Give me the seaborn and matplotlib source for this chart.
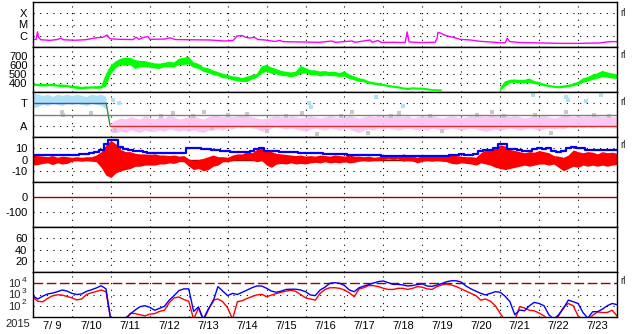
import numpy as np
import pandas as pd
import matplotlib
matplotlib.use("Agg")
import matplotlib.pyplot as plt
import seaborn as sns

sns.set_style("white")
plt.rcParams['font.family'] = ['Liberation Sans', 'DejaVu Sans']

nan = np.nan

# ---------------- data ----------------
year_label = "2015"
date_labels = ["7/ 9", "7/10", "7/11", "7/12", "7/13", "7/14", "7/15", "7/16",
               "7/17", "7/18", "7/19", "7/20", "7/21", "7/22", "7/23"]
# 3-hourly grid, days since 2015-07-09 00:00 UT
hours3 = list(range(0, 361, 3))

# GOES X-ray flux (W/m^2)
xray_day = [0.0, 0.08, 0.115, 0.14, 0.2, 0.44, 0.62, 0.72, 0.77, 1.08, 1.34, 1.64, 1.8, 1.9, 1.98,
            2.23, 2.57, 2.65, 2.72, 2.83, 2.95, 3.0, 3.39, 3.52, 3.65, 4.03, 4.55, 4.93, 5.14, 5.24,
            5.37, 5.47, 5.57, 5.68, 5.78, 5.96, 6.22, 6.34, 6.42, 6.86, 7.37, 7.68, 7.76, 8.19, 8.27,
            8.66, 8.71, 8.86, 8.94, 9.3, 9.56, 9.61, 9.66, 9.94, 10.33, 10.38, 10.4, 10.48, 10.6,
            10.79, 10.97, 11.23, 11.48, 11.74, 12.0, 12.13, 12.18, 12.25, 12.51, 13.02, 13.54,
            14.05, 14.56, 14.74, 14.87, 15.0]
xray_flux = [4.8e-7, 4.6e-7, 2.2e-6, 7.7e-7, 4.4e-7, 3.9e-7, 4.6e-7, 6.1e-7, 4.4e-7, 4.0e-7, 4.4e-7,
             6.6e-7, 7.3e-7, 1.17e-6, 5.4e-7, 4.8e-7, 4.6e-7, 7.4e-7, 4.8e-7, 7.0e-7, 8.6e-7, 4.8e-7,
             5.1e-7, 6.6e-7, 4.6e-7, 4.4e-7, 4.2e-7, 3.4e-7, 3.8e-7, 9.5e-7, 1.05e-6, 7.0e-7, 6.3e-7,
             7.3e-7, 4.6e-7, 4.2e-7, 3.1e-7, 3.9e-7, 3.0e-7, 2.8e-7, 2.6e-7, 3.4e-7, 2.6e-7, 3.4e-7,
             2.6e-7, 4.2e-7, 2.6e-7, 3.8e-7, 2.6e-7, 2.6e-7, 2.5e-7, 2.2e-6, 2.8e-7, 2.5e-7, 2.6e-7,
             6.3e-7, 2.0e-6, 1.65e-6, 1.05e-6, 7.3e-7, 4.8e-7, 4.2e-7, 3.2e-7, 2.8e-7, 2.4e-7, 2.4e-7,
             5.9e-7, 3.0e-7, 2.5e-7, 2.3e-7, 2.1e-7, 2.1e-7, 2.3e-7, 2.8e-7, 3.0e-7, 3.0e-7]

# Solar wind speed (km/s), 3-hourly, and its scatter half-width
speed = [380, 378, 376, 376, 378, 372, 368, 366,
         355, 350, 345, 348, 350, 350, 352, 430,
         545, 600, 635, 635, 640, 605, 610, 610,
         600, 590, 585, 600, 605, 600, 635, 640,
         650, 600, 585, 550, 537, 515, 500, 478,
         470, 452, 444, 433, 441, 463, 478, 544,
         563, 537, 526, 507, 500, 489, 500, 544,
         537, 515, 515, 500, 507, 500, 500, 489,
         500, 470, 452, 433, 426, 404, 396, 385,
         378, 367, 359, 352, 341, 333, 341, 337,
         337, 330, 322, 322, 318, nan, nan, nan,
         nan, nan, nan, nan, nan, nan, nan, nan,
         330, 389, 415, 422, 415, 415, 426, 404,
         396, 378, 367, 359, 352, 359, 367, 378,
         396, 426, 441, 463, 478, 500, 489, 478,
         470]
speed_spread = [14, 12, 15, 12, 14, 12, 15, 12,
                14, 16, 12, 14, 12, 15, 14, 70,
                50, 40, 35, 45, 40, 50, 35, 35,
                30, 28, 30, 25, 30, 28, 35, 40,
                42, 30, 28, 25, 28, 25, 22, 25,
                20, 22, 25, 22, 30, 25, 22, 40,
                38, 35, 30, 28, 25, 28, 25, 45,
                30, 28, 25, 28, 25, 22, 25, 22,
                30, 25, 22, 20, 18, 16, 14, 14,
                12, 12, 12, 12, 12, 12, 12, 12,
                12, 12, 10, 10, 10, nan, nan, nan,
                nan, nan, nan, nan, nan, nan, nan, nan,
                20, 30, 20, 18, 18, 20, 25, 18,
                15, 14, 12, 12, 12, 14, 14, 15,
                18, 25, 25, 30, 30, 35, 30, 28,
                25]

# IMF sector: T=3, A=1 (scale 0..4)
sector_ticks = [3, 1]
sector_ticklabels = ["T", "A"]
sky_lo = [2.6, 2.7, 2.9, 2.8, 3.0, 2.9, 2.8, 3.0, 2.9, 3.0, 2.9, 2.8, 3.0, 2.9, 2.8, 2.5] + [nan] * 105
sky_hi = [3.9, 3.8, 3.7, 3.8, 3.6, 3.8, 3.7, 3.8, 3.7, 3.8, 3.7, 3.6, 3.8, 3.7, 3.8, 3.6] + [nan] * 105
pink_lo = [nan] * 16 + [
    0.4, 0.4, 0.5, 0.4, 0.6, 0.5, 0.4, 0.6,
    0.5, 0.5, 0.6, 0.5, 0.7, 0.6, 0.5, 0.6,
    0.5, 0.6, 0.5, 0.4, 0.6, 0.6, 0.7, 0.6,
    0.8, 0.7, 0.9, 0.8, 0.9, 0.8, 0.7, 0.5,
    0.6, 0.8, 0.9, 0.8, 0.7, 0.8, 0.7, 0.6,
    0.5, 0.7, 0.8, 0.7, 0.6, 0.8, 0.7, 0.6,
    0.8, 0.7, 0.5, 0.4, 0.6, 0.7, 0.6, 0.8,
    0.7, 0.8, 0.7, 0.6, 0.7, 0.8, 0.7, 0.6,
    0.7, 0.6, 0.8, 0.7, 0.6, 0.7, 0.8, 0.7,
    0.6, 0.7, 0.8, 0.7, 0.6, 0.5, 0.6, 0.7,
    0.6, 0.7, 0.8, 0.7, 0.6, 0.7, 0.8, 0.7,
    0.6, 0.7, 0.8, 0.7, 0.8, 0.7, 0.9, 0.8,
    0.9, 0.8, 0.9, 0.8, 0.9, 0.8, 0.9, 0.8,
    0.8]
pink_hi = [nan] * 16 + [
    1.3, 1.5, 1.7, 1.6, 1.8, 1.7, 1.6, 1.9,
    1.7, 1.6, 1.8, 1.7, 1.9, 1.8, 1.6, 1.7,
    1.8, 1.9, 1.7, 1.6, 1.8, 1.9, 1.9, 1.8,
    1.9, 1.8, 1.9, 2.0, 1.9, 1.8, 1.7, 1.6,
    1.7, 1.8, 1.9, 1.8, 1.7, 1.9, 1.8, 1.7,
    1.8, 1.9, 1.8, 1.7, 1.8, 1.9, 1.8, 1.7,
    1.8, 1.9, 1.8, 1.7, 1.8, 1.9, 1.8, 1.9,
    1.8, 1.9, 1.8, 1.9, 1.8, 1.9, 1.7, 1.8,
    1.9, 1.8, 1.9, 1.8, 1.7, 1.8, 1.9, 1.8,
    1.7, 1.8, 1.9, 1.8, 1.9, 1.8, 2.0, 1.9,
    1.8, 1.9, 1.8, 1.9, 1.8, 1.7, 1.8, 1.9,
    1.8, 1.9, 1.8, 1.7, 1.8, 1.9, 1.9, 1.8,
    1.9, 1.8, 1.9, 1.8, 1.9, 1.8, 1.9, 1.8,
    1.8]
gray_day = [0.75, 0.78, 1.5, 2.1, 3.3, 3.6, 4.1, 4.4, 4.6, 5.0, 5.5, 6.0, 6.5, 6.9, 7.3, 7.9, 8.2,
            8.6, 9.2, 9.4, 10.2, 10.5, 11.4, 11.8, 12.1, 12.9, 13.3, 13.7, 14.4, 14.8]
gray_val = [2.2, 2.0, 2.1, 0.6, 1.9, 2.1, 1.9, 2.2, 0.8, 1.95, 2.05, 0.5, 1.9, 2.1, 0.3, 1.9, 2.2,
            0.4, 1.9, 2.1, 1.9, 0.5, 2.0, 2.2, 1.9, 2.0, 0.4, 2.2, 2.0, 1.9]
skyout_day = [2.05, 2.2, 7.1, 7.15, 8.8, 9.5, 12.85, 13.7, 13.75, 14.2, 14.6]
skyout_val = [3.3, 3.0, 3.0, 2.7, 3.6, 2.8, 3.7, 3.6, 3.3, 3.2, 3.7]
sector_model_day = [0.0, 1.88, 1.98, 15.0]
sector_model_val = [3, 3, 1, 1]

# IMF |B| (blue) and Bz range (red), nT
bt = [4.0, 4.2, 4.0, 4.0, 4.2, 4.0, 4.0, 4.3,
      4.3, 4.2, 4.8, 5.3, 5.5, 6.5, 8.5, 14.0,
      17.5, 17.5, 11.0, 9.0, 8.4, 7.8, 7.5, 6.5,
      6.0, 5.8, 5.8, 5.8, 5.5, 5.5, 5.5, 5.8,
      10.5, 10.5, 10.0, 9.5, 9.2, 8.8, 8.5, 7.5,
      7.2, 7.0, 7.0, 6.8, 6.8, 7.5, 9.5, 10.0,
      8.0, 7.5, 7.2, 7.0, 6.8, 6.8, 6.5, 6.0,
      5.8, 5.6, 5.5, 5.5, 5.3, 5.3, 5.2, 5.0,
      4.5, 4.2, 4.0, 4.0, 4.2, 4.0, 4.0, 3.8,
      3.4, 3.2, 3.2, 3.0, 3.0, 3.0, 3.2, 3.0,
      3.0, 3.0, 3.1, 3.0, 3.2, 3.5, 4.2, 4.4,
      4.5, 4.4, 4.4, 4.6, 7.5, 8.4, 8.5, 10.0,
      13.5, 14.0, 9.5, 9.0, 8.2, 8.0, 8.0, 9.0,
      10.0, 9.5, 10.0, 7.5, 7.0, 7.2, 10.5, 10.8,
      10.5, 10.2, 8.8, 8.5, 8.5, 8.3, 8.5, 8.3,
      8.3]
bz_lo = [-4.9, -4.5, -3.5, -3.0, -4.5, -3.0, -4.0, -3.5,
         -1.5, -1.0, -1.5, -1.0, -1.5, -2.0, -7.0, -14.0,
         -16.0, -12.0, -10.0, -9.0, -8.0, -6.0, -6.0, -5.0,
         -5.0, -5.0, -4.0, -4.0, -3.0, -3.5, -2.0, -2.0,
         -6.0, -9.0, -8.0, -10.0, -9.0, -6.0, -5.0, -2.0,
         -2.0, -1.0, 0.0, -0.5, 0.0, -0.5, -2.0, -1.0,
         -5.0, -7.0, -4.0, -3.5, -4.0, -3.0, -4.0, -3.5,
         -4.0, -3.0, -2.5, -3.0, -2.0, -3.0, -2.5, -3.0,
         -2.0, -3.0, -2.5, -1.5, -1.0, -1.5, -1.0, -1.0,
         0.0, 0.5, 0.0, 0.5, -1.5, -1.0, -1.5, -3.0,
         -1.5, -1.0, -1.5, -1.0, -1.5, -2.0, -3.5, -4.0,
         -3.0, -3.5, -4.0, -5.0, -3.0, -4.0, -5.0, -7.0,
         -8.0, -9.0, -8.0, -7.0, -6.0, -5.0, -6.0, -5.0,
         -4.0, -4.0, -5.0, -4.0, -7.0, -10.0, -8.0, -6.0,
         -7.0, -5.0, -6.0, -5.0, -6.0, -5.0, -6.0, -5.0,
         -4.5]
bz_hi = [4.0, 3.5, 3.0, 2.5, 3.5, 2.0, 3.0, 2.5,
         2.0, 2.5, 2.0, 2.5, 2.5, 4.0, 7.0, 13.0,
         17.0, 14.0, 9.0, 7.0, 7.0, 5.5, 5.0, 5.0,
         4.5, 5.0, 4.0, 4.0, 3.5, 4.0, 3.0, 3.5,
         0.5, -1.0, 0.0, 1.0, 2.5, 4.0, 2.5, 2.5,
         2.0, 4.0, 5.0, 5.0, 7.0, 6.0, 9.0, 10.0,
         8.5, 7.0, 5.5, 5.0, 4.5, 4.0, 3.5, 4.0,
         3.0, 3.5, 3.0, 4.0, 3.5, 3.0, 4.0, 3.5,
         3.0, 4.0, 3.0, 3.0, 2.5, 3.0, 2.0, 2.5,
         3.0, 2.5, 3.0, 2.5, 5.0, 4.0, 3.0, 2.0,
         4.0, 3.0, 3.5, 4.0, 3.0, 4.0, 4.0, 3.5,
         3.0, 2.5, 2.5, 2.0, 6.0, 8.5, 9.0, 10.0,
         13.0, 12.0, 9.0, 8.0, 7.0, 6.0, 7.0, 6.5,
         8.0, 7.0, 6.0, 3.5, 3.0, 2.0, 4.0, 8.5,
         7.0, 6.0, 7.0, 6.5, 5.0, 7.0, 6.0, 6.5,
         5.5]

# Dst (nT): only the zero reference shown
dst_ticks = [0, -100]
# panel 6 ticks
p6_ticks = [60, 40, 20]

# >2 MeV electron flux, log10 (two satellites)
e_ticks = [1e4, 1e3, 1e2]
e_exponents = ["4", "3", "2"]
e_blue = [2.87, 2.6, 2.85, 3.05, 3.12, 3.25, 3.4, 3.3,
          3.1, 3.0, 3.05, 3.28, 3.42, 3.58, 3.78, 3.5,
          0.7, 0.7, 0.7, 0.9, 1.27, 1.62, 1.92, 2.0,
          1.86, 1.6, 1.77, 1.95, 2.5, 2.9, 3.35, 3.5,
          3.5, 1.5, 1.9, 0.8, 1.7, 2.36, 3.7, 3.3,
          2.9, 3.1, 3.0, 3.2, 3.4, 3.6, 3.76, 3.75,
          3.55, 3.3, 3.2, 3.3, 3.45, 3.47, 3.47, 3.4,
          3.25, 2.96, 2.9, 3.4, 3.65, 4.0, 4.05, 4.0,
          3.8, 3.4, 3.25, 3.6, 3.75, 3.88, 4.02, 4.15,
          4.2, 4.05, 3.9, 3.9, 3.85, 3.75, 3.8, 3.88,
          3.95, 3.75, 3.72, 3.84, 3.97, 4.14, 4.22, 4.22,
          4.1, 3.75, 3.5, 3.3, 3.1, 2.96, 3.1, 3.25,
          3.2, 2.85, 2.36, 1.2, 1.62, 1.55, 2.0, 2.3,
          2.2, 2.0, 1.2, 0.8, 1.2, 1.77, 2.5, 2.36,
          2.2, 1.4, 0.9, 1.47, 1.47, 1.7, 2.0, 2.2,
          2.1]
e_red = [2.75, 2.4, 2.35, 2.65, 2.88, 2.97, 2.95, 2.82,
         2.7, 2.52, 2.6, 3.0, 3.15, 3.27, 3.4, 3.25,
         0.7, 0.7, 0.7, 0.7, 1.33, 1.3, 1.2, 1.1,
         1.25, 1.3, 1.5, 1.6, 2.27, 2.7, 2.78, 2.55,
         2.4, 0.8, 1.8, 0.7, 1.6, 2.5, 2.6, 2.36,
         1.8, 0.8, 2.36, 2.45, 2.65, 2.82, 2.96, 3.02,
         2.8, 2.95, 3.08, 3.2, 3.3, 3.38, 3.28, 3.0,
         2.7, 2.6, 2.5, 3.1, 3.45, 3.6, 3.6, 3.55,
         3.4, 3.15, 2.8, 3.5, 3.6, 3.8, 3.78, 3.7,
         3.55, 3.45, 3.45, 3.55, 3.55, 3.45, 3.55, 3.7,
         3.65, 3.5, 3.45, 3.7, 3.85, 3.93, 3.84, 3.7,
         3.5, 3.3, 3.1, 2.9, 2.5, 2.6, 2.4, 2.0,
         1.33, 0.7, 0.7, 0.7, 1.92, 1.8, 1.6, 1.55,
         1.35, 1.1, 0.7, 0.7, 1.1, 1.85, 2.2, 2.0,
         1.1, 0.7, 0.7, 1.15, 1.45, 1.4, 1.4, 1.6,
         1.1]

# ---------------- figure ----------------
FW, FH = 633, 334
X0, X1 = 33, 617
PH = 45
fig = plt.figure(figsize=(FW / 100, FH / 100), dpi=100)
fig.patch.set_facecolor("white")

days = np.array(hours3) / 24.0
DOT = (0, (1, 5))


def make_panel(i):
    top = 2 + PH * i
    ax = fig.add_axes([X0 / FW, 1 - (top + PH) / FH, (X1 - X0) / FW, PH / FH])
    ax.set_facecolor("white")
    ax.set_xlim(0, 15)
    for s in ax.spines.values():
        s.set_color("black")
        s.set_linewidth(1.0)
        s.set_zorder(10)
    ax.tick_params(axis="both", length=0, labelsize=8, pad=4, colors="black")
    ax.set_xticks([])
    for d in range(1, 15):
        ax.axvline(d, color="black", lw=0.8, ls=DOT, zorder=1)
    return ax


def hdots(ax, vals):
    for v in vals:
        ax.axhline(v, color="black", lw=0.8, ls=DOT, zorder=1)


# Panel 1: X-ray
ax1 = make_panel(0)
ax1.set_yscale("log")
ax1.set_ylim(1e-7, 1e-3)
hdots(ax1, [1e-4, 1e-5, 1e-6])
sns.lineplot(x=xray_day, y=xray_flux, ax=ax1, color="#ff00ff", lw=1.0, estimator=None, sort=False)
ax1.set_yticks([1e-4, 1e-5, 1e-6], ["X", "M", "C"])
ax1.yaxis.set_minor_locator(matplotlib.ticker.NullLocator())

# Panel 2: speed
ax2 = make_panel(1)
ax2.set_ylim(300, 800)
hdots(ax2, [400, 500, 600, 700])
sp = np.array(speed, dtype=float)
spr = np.array(speed_spread, dtype=float)
ax2.fill_between(days, sp - spr, sp + spr, color="#00ff00", lw=0, zorder=3)
ax2.set_yticks([700, 600, 500, 400], ["700", "600", "500", "400"])

# Panel 3: sector
ax3 = make_panel(2)
ax3.set_ylim(0, 4)
hdots(ax3, sector_ticks)
ax3.fill_between(days, sky_lo, sky_hi, color="#aee0f6", lw=0, zorder=2)
ax3.fill_between(days, pink_lo, pink_hi, color="#f8c0f2", lw=0, alpha=0.85, zorder=2)
sns.scatterplot(x=gray_day, y=gray_val, ax=ax3, color="#c8c8c8", marker="s", s=6, linewidth=0, zorder=3)
sns.scatterplot(x=skyout_day, y=skyout_val, ax=ax3, color="#aee0f6", marker="s", s=6, linewidth=0, zorder=3)
ax3.axhline(2, color="#808080", lw=1.0, zorder=4)
sns.lineplot(x=sector_model_day[0:2], y=sector_model_val[0:2], ax=ax3, color="#4050c8", lw=1.0,
             estimator=None, sort=False, zorder=5)
sns.lineplot(x=sector_model_day[1:3], y=sector_model_val[1:3], ax=ax3, color="#309040", lw=1.0,
             estimator=None, sort=False, zorder=5)
sns.lineplot(x=sector_model_day[2:4], y=sector_model_val[2:4], ax=ax3, color="#d03030", lw=1.0,
             estimator=None, sort=False, zorder=5)
ax3.set_yticks(sector_ticks, sector_ticklabels)

# Panel 4: IMF
ax4 = make_panel(3)
ax4.set_ylim(-20, 20)
hdots(ax4, [10, -10])
ax4.fill_between(days, bz_lo, bz_hi, color="#ff0000", lw=0, zorder=3)
ax4.axhline(0, color="#a00000", lw=1.0, zorder=2)
sns.lineplot(x=days, y=bt, ax=ax4, color="#0000ff", lw=1.6, estimator=None, sort=False,
             drawstyle="steps-mid", zorder=4)
ax4.set_yticks([10, 0, -10], ["10", "0", "-10"])

# Panel 5: Dst
ax5 = make_panel(4)
ax5.set_ylim(-200, 100)
hdots(ax5, [-100])
ax5.axhline(0, color="#a00000", lw=1.0, zorder=3)
ax5.set_yticks(dst_ticks, ["0", "-100"])

# Panel 6
ax6 = make_panel(5)
ax6.set_ylim(0, 80)
hdots(ax6, p6_ticks)
ax6.set_yticks(p6_ticks, ["60", "40", "20"])

# Panel 7: electrons
ax7 = make_panel(6)
ax7.set_yscale("log")
ax7.set_ylim(10, 1e5)
hdots(ax7, [1e3, 1e2])
ax7.axhline(1e4, color="#a00000", lw=1.0, ls=(0, (7, 2.5)), zorder=2)
sns.lineplot(x=days, y=10 ** np.array(e_red), ax=ax7, color="#ff0000", lw=1.0,
             estimator=None, sort=False, zorder=3)
sns.lineplot(x=days, y=10 ** np.array(e_blue), ax=ax7, color="#0000ff", lw=1.0,
             estimator=None, sort=False, zorder=4)
ax7.set_yticks(e_ticks, ["", "", ""])
ax7.yaxis.set_minor_locator(matplotlib.ticker.NullLocator())
for v, ex in zip(e_ticks, e_exponents):
    ax7.annotate("10", xy=(0, v), xycoords=("axes fraction", "data"), xytext=(-13, -1),
                 textcoords="offset pixels", ha="right", va="center", fontsize=8)
    ax7.annotate(ex, xy=(0, v), xycoords=("axes fraction", "data"), xytext=(-7, 3),
                 textcoords="offset pixels", ha="right", va="center", fontsize=6)
ax7.set_xticks(np.arange(15) + 0.5, date_labels)
ax7.tick_params(axis="x", pad=3, labelsize=8)
for ax in [ax1, ax2, ax3, ax4, ax5, ax6]:
    ax.set_xticks([])
for ax in [ax1, ax2, ax3, ax4, ax5, ax6, ax7]:
    ax.set_xlim(0, 15)
    ax.set_xlabel("")
    ax.set_ylabel("")

fig.text(5 / FW, 1 - 324 / FH, year_label, fontsize=8, ha="left", va="center")
for yy in [12.5, 55.5, 102, 145, 281]:
    fig.text(620 / FW, 1 - yy / FH, "rl", fontsize=7, ha="left", va="center")

fig.savefig("out.png", dpi=100, facecolor="white")
